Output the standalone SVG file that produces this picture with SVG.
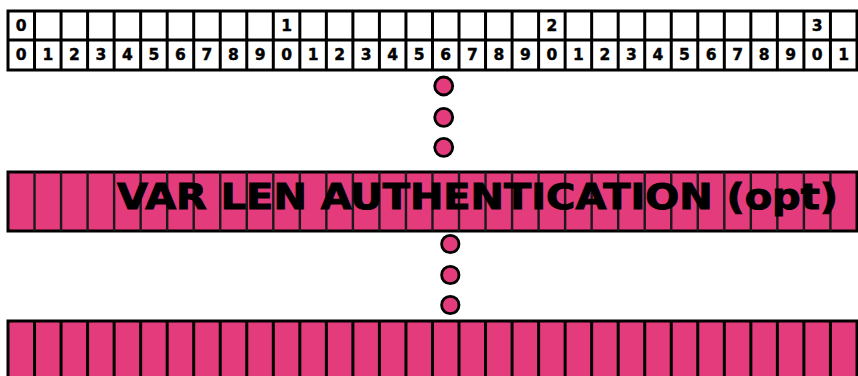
<svg xmlns="http://www.w3.org/2000/svg" width="858" height="376" viewBox="0 0 858 376">
<style>
.frame{fill:#fff;stroke:#000;stroke-width:3}
.pink{fill:#E33B7C;stroke:#000;stroke-width:3}
.div{fill:none;stroke:#000;stroke-width:3}
.divp{fill:none;stroke:#1a1a1a;stroke-width:2.4}
.dig{font-family:"DejaVu Sans",sans-serif;font-weight:bold;font-size:15.5px;fill:#000;stroke:#000;stroke-width:0.4;text-anchor:middle}
.dot{fill:#E33B7C;stroke:#000;stroke-width:2.8}
.big{font-family:"DejaVu Sans",sans-serif;font-weight:bold;font-size:35px;fill:#000;stroke:#000;stroke-width:1}
</style>
<rect width="858" height="376" fill="#fff"/>
<g id="header">
<rect class="frame" x="8" y="11" width="849" height="59"/>
<path class="div" d="M8 40H857"/>
<path class="div" d="M34.53 11V70M61.06 11V70M87.59 11V70M114.12 11V70M140.65 11V70M167.18 11V70M193.71 11V70M220.24 11V70M246.77 11V70M273.3 11V70M299.83 11V70M326.36 11V70M352.89 11V70M379.42 11V70M405.95 11V70M432.48 11V70M459.01 11V70M485.54 11V70M512.07 11V70M538.6 11V70M565.13 11V70M591.66 11V70M618.19 11V70M644.72 11V70M671.25 11V70M697.78 11V70M724.31 11V70M750.84 11V70M777.37 11V70M803.9 11V70M830.43 11V70"/>
<g class="dig">
<text x="21.27" y="30.5">0</text>
<text x="286.57" y="30.5">1</text>
<text x="551.87" y="30.5">2</text>
<text x="817.17" y="30.5">3</text>
<text x="21.27" y="59.5">0</text>
<text x="47.8" y="59.5">1</text>
<text x="74.33" y="59.5">2</text>
<text x="100.86" y="59.5">3</text>
<text x="127.39" y="59.5">4</text>
<text x="153.92" y="59.5">5</text>
<text x="180.45" y="59.5">6</text>
<text x="206.98" y="59.5">7</text>
<text x="233.51" y="59.5">8</text>
<text x="260.04" y="59.5">9</text>
<text x="286.57" y="59.5">0</text>
<text x="313.1" y="59.5">1</text>
<text x="339.63" y="59.5">2</text>
<text x="366.16" y="59.5">3</text>
<text x="392.69" y="59.5">4</text>
<text x="419.22" y="59.5">5</text>
<text x="445.75" y="59.5">6</text>
<text x="472.28" y="59.5">7</text>
<text x="498.81" y="59.5">8</text>
<text x="525.34" y="59.5">9</text>
<text x="551.87" y="59.5">0</text>
<text x="578.4" y="59.5">1</text>
<text x="604.93" y="59.5">2</text>
<text x="631.46" y="59.5">3</text>
<text x="657.99" y="59.5">4</text>
<text x="684.52" y="59.5">5</text>
<text x="711.05" y="59.5">6</text>
<text x="737.58" y="59.5">7</text>
<text x="764.11" y="59.5">8</text>
<text x="790.64" y="59.5">9</text>
<text x="817.17" y="59.5">0</text>
<text x="843.7" y="59.5">1</text>
</g>
</g>
<g id="dots1">
<circle class="dot" cx="443.7" cy="86" r="9"/>
<circle class="dot" cx="443.7" cy="117.3" r="9"/>
<circle class="dot" cx="443.7" cy="147.3" r="9"/>
</g>
<g id="auth">
<rect class="pink" x="8" y="172" width="849" height="59"/>
<path class="divp" d="M34.53 172V231M61.06 172V231M87.59 172V231M114.12 172V231M140.65 172V231M167.18 172V231M193.71 172V231M220.24 172V231M246.77 172V231M273.3 172V231M299.83 172V231M326.36 172V231M352.89 172V231M379.42 172V231M405.95 172V231M432.48 172V231M459.01 172V231M485.54 172V231M512.07 172V231M538.6 172V231M565.13 172V231M591.66 172V231M618.19 172V231M644.72 172V231M671.25 172V231M697.78 172V231M724.31 172V231M750.84 172V231M777.37 172V231M803.9 172V231M830.43 172V231"/>
<text class="big" x="117" y="209" textLength="721" lengthAdjust="spacingAndGlyphs">VAR LEN AUTHENTICATION (opt)</text>
</g>
<g id="dots2">
<circle class="dot" cx="450.3" cy="244" r="8.7"/>
<circle class="dot" cx="450.3" cy="275" r="8.7"/>
<circle class="dot" cx="450.3" cy="305" r="8.7"/>
</g>
<g id="bottom">
<rect class="pink" x="8" y="321" width="849" height="70"/>
<path class="div" d="M34.53 321V376M61.06 321V376M87.59 321V376M114.12 321V376M140.65 321V376M167.18 321V376M193.71 321V376M220.24 321V376M246.77 321V376M273.3 321V376M299.83 321V376M326.36 321V376M352.89 321V376M379.42 321V376M405.95 321V376M432.48 321V376M459.01 321V376M485.54 321V376M512.07 321V376M538.6 321V376M565.13 321V376M591.66 321V376M618.19 321V376M644.72 321V376M671.25 321V376M697.78 321V376M724.31 321V376M750.84 321V376M777.37 321V376M803.9 321V376M830.43 321V376"/>
</g>
</svg>
